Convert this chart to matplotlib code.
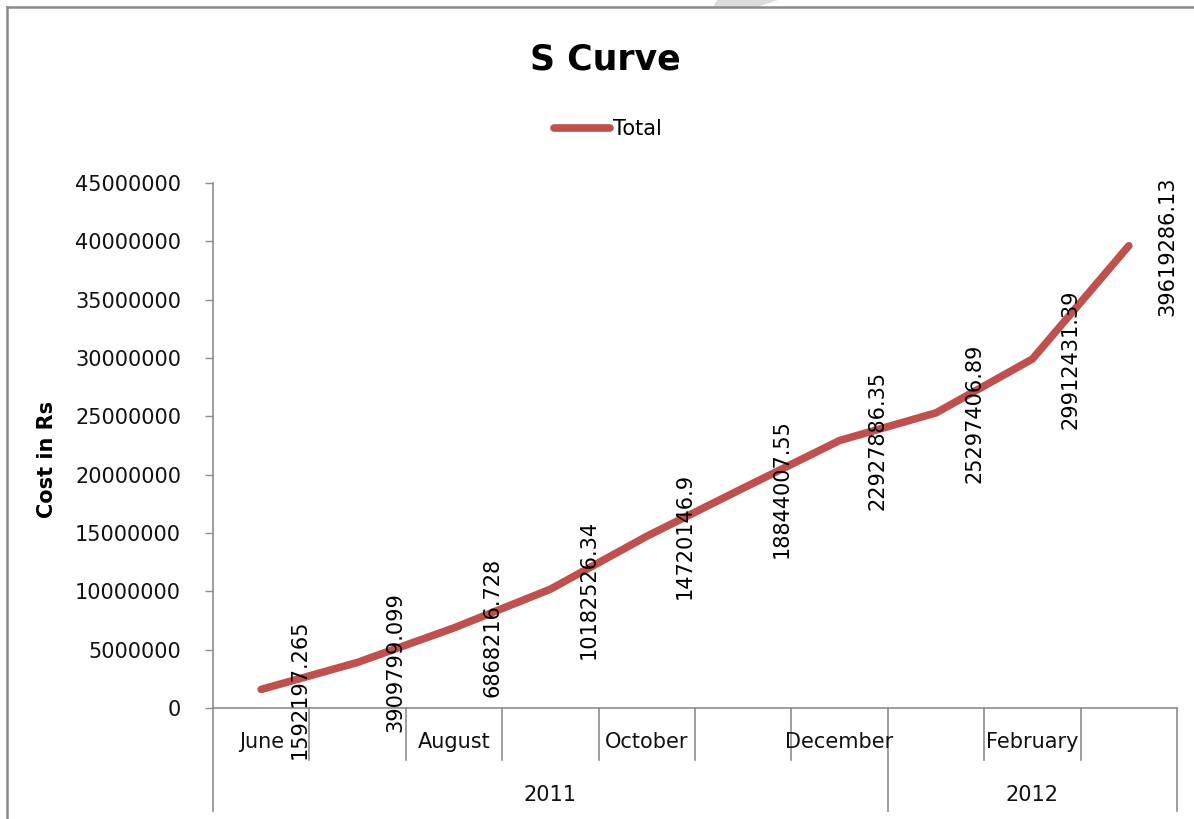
import matplotlib
matplotlib.use("Agg")
import matplotlib.pyplot as plt
from matplotlib.lines import Line2D
from matplotlib.patches import Polygon

plt.rcParams['font.family'] = ['DejaVu Sans']

# Monthly cumulative cost
months = ["June", "July", "August", "September", "October", "November",
          "December", "January", "February", "March"]
shown_months = ["June", "", "August", "", "October", "", "December", "", "February", ""]
years = ["2011", "2012"]
months_per_year = [7, 3]
totals = [1592197.265, 3909799.099, 6868216.728, 10182526.34, 14720146.9,
          18844007.55, 22927886.35, 25297406.89, 29912431.39, 39619286.13]
label_texts = ["1592197.265", "3909799.099", "6868216.728", "10182526.34", "14720146.9",
               "18844007.55", "22927886.35", "25297406.89", "29912431.39", "39619286.13"]
y_ticks = [0, 5000000, 10000000, 15000000, 20000000, 25000000,
           30000000, 35000000, 40000000, 45000000]

W, H = 1194, 819
fig = plt.figure(figsize=(W / 100, H / 100), dpi=100)
fig.patch.set_facecolor("white")

ax_l, ax_r, ax_t, ax_b = 213, 1177, 183, 708
ax = fig.add_axes([ax_l / W, 1 - ax_b / H, (ax_r - ax_l) / W, (ax_b - ax_t) / H])

line_color = "#C0504D"
axis_color = "#8E8E8E"
text_color = "#111111"
n = len(months)
xs = [i + 0.5 for i in range(n)]

ax.plot(xs, totals, color=line_color, lw=5.5, solid_capstyle="round",
        solid_joinstyle="round", label="Total", zorder=3)

# Rotated value labels beside each point
for x, v, t in zip(xs, totals, label_texts):
    ax.annotate(t, (x, v), xytext=(27.5, 0), textcoords="offset points",
                rotation=90, ha="center", va="center", fontsize=15,
                color="black", zorder=4, annotation_clip=False)

ax.set_xlim(0, n)
ax.set_ylim(0, 45000000)
ax.set_yticks(y_ticks)
ax.set_yticklabels([str(v) for v in y_ticks], fontsize=15, color=text_color)
ax.tick_params(axis="y", direction="out", length=6, width=1, color=axis_color, pad=17)
ax.set_xticks([])

for s in ["top", "right"]:
    ax.spines[s].set_visible(False)
for s in ["left", "bottom"]:
    ax.spines[s].set_color(axis_color)
    ax.spines[s].set_linewidth(1.2)

ax.set_ylabel("Cost in Rs", fontsize=15, fontweight="bold", labelpad=0)
ax.yaxis.set_label_coords((57 - ax_l) / (ax_r - ax_l), 0.5 - (459 - (ax_t + ax_b) / 2) / (ax_b - ax_t))

# Two-level category axis: month cells and year groups
trans = ax.get_xaxis_transform()
ah = ax_b - ax_t
month_depth = -(760 - ax_b) / ah
year_depth = -(811 - ax_b) / ah
year_bounds = [0]
for c in months_per_year:
    year_bounds.append(year_bounds[-1] + c)

for b in range(n + 1):
    depth = year_depth if b in year_bounds else month_depth
    ax.add_line(Line2D([b, b], [0, depth], transform=trans, color=axis_color,
                       lw=1.2, clip_on=False))

month_y = -(742 - ax_b) / ah
for x, m in zip(xs, shown_months):
    if m:
        ax.text(x, month_y, m, transform=trans, ha="center", va="center",
                fontsize=15, color=text_color, clip_on=False)

year_y = -(795 - ax_b) / ah
for i, yname in enumerate(years):
    cx = (year_bounds[i] + year_bounds[i + 1]) / 2
    ax.text(cx, year_y, yname, transform=trans, ha="center", va="center",
            fontsize=15, color=text_color, clip_on=False)

# Title and legend
fig.text(605 / W, 1 - 60 / H, "S Curve", ha="center", va="center",
         fontsize=25, fontweight="bold")
fig.legend(handles=[Line2D([], [], color=line_color, lw=5.5, solid_capstyle="round")],
           labels=["Total"], loc="center", bbox_to_anchor=(608 / W, 1 - 129 / H),
           frameon=False, fontsize=15, handlelength=2.7, handletextpad=0.15)

# Chart area border
fig.add_artist(Line2D([7 / W, 7 / W], [0, 1 - 7 / H], transform=fig.transFigure,
                      color="#8a8a8a", lw=1.8))
fig.add_artist(Line2D([7 / W, 1], [1 - 7 / H, 1 - 7 / H], transform=fig.transFigure,
                      color="#8a8a8a", lw=1.8))
fig.add_artist(Polygon([(717 / W, 1), (778 / W, 1), (757 / W, 1 - 7 / H), (713 / W, 1 - 7 / H)],
                       closed=True, transform=fig.transFigure, facecolor="#dcdcdc",
                       edgecolor="none"))

fig.savefig("out.png", dpi=100)
